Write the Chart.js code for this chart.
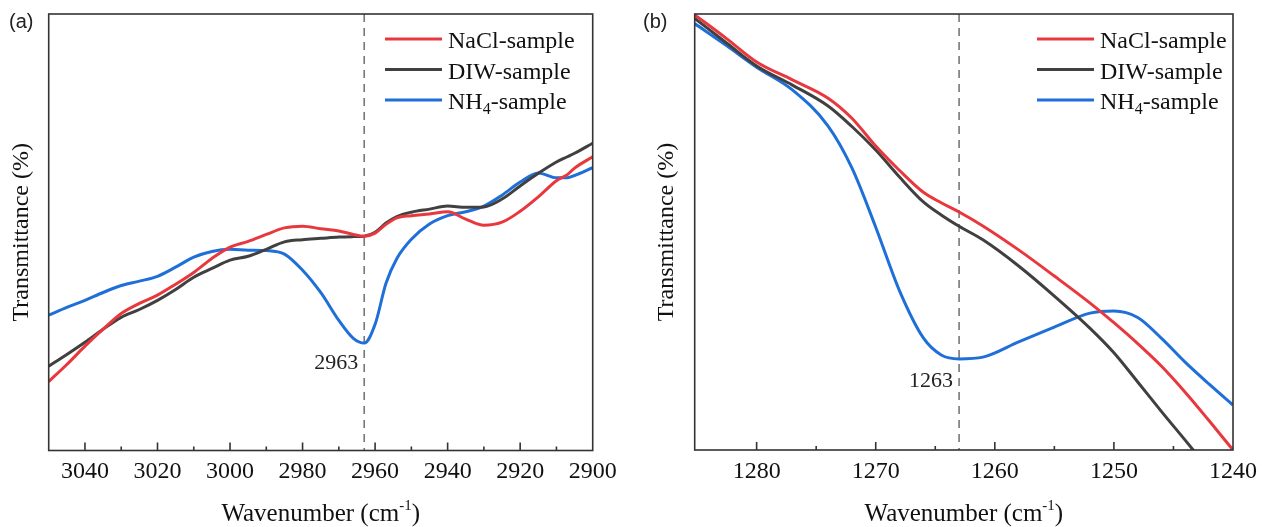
<!DOCTYPE html>
<html>
<head>
<meta charset="utf-8">
<script src="https://cdn.jsdelivr.net/npm/chart.js@4.4.0/dist/chart.umd.min.js"></script>
<style>
  html, body { margin: 0; padding: 0; background: #fff; }
  .wrap { display: flex; width: 1264px; height: 527px; }
  canvas { display: block; }
</style>
</head>
<body>
<div class="wrap">
  <canvas id="chart-a" width="632" height="527"></canvas>
  <canvas id="chart-b" width="632" height="527"></canvas>
</div>
<script>
// ---- panel (a) data ----
const wavenumbersA = [3050, 3045, 3040, 3035, 3030, 3025, 3020, 3015, 3010, 3005, 3000, 2995,
  2990, 2985, 2980, 2975, 2970, 2966, 2963, 2960, 2957, 2954, 2950, 2945, 2940, 2935,
  2930, 2925, 2920, 2915, 2910, 2907, 2905, 2900];
const naclA = [15.8, 19.7, 23.9, 27.8, 31.4, 33.7, 35.6, 38.1, 40.8, 44.0, 46.6, 47.9,
  49.5, 51.0, 51.4, 50.8, 50.3, 49.5, 49.1, 49.8, 51.8, 53.3, 53.8, 54.2, 54.7, 53.0,
  51.6, 52.3, 54.8, 58.1, 61.8, 63.2, 64.7, 67.3];
const diwA = [19.3, 22.0, 24.8, 27.8, 30.5, 32.3, 34.4, 36.9, 39.7, 41.7, 43.6, 44.5,
  46.1, 47.8, 48.3, 48.6, 48.9, 49.0, 49.1, 50.0, 52.1, 53.6, 54.6, 55.3, 56.0, 55.7,
  55.8, 57.6, 60.6, 63.5, 66.1, 67.3, 68.1, 70.4];
const nh4A = [31.0, 32.8, 34.4, 36.2, 37.8, 38.8, 39.9, 42.0, 44.3, 45.6, 46.1, 45.9,
  45.8, 45.0, 41.3, 36.2, 29.8, 25.7, 24.6, 28.9, 38.3, 44.0, 48.4, 51.9, 53.8, 54.7,
  56.0, 58.5, 61.5, 63.6, 62.5, 62.5, 63.0, 64.8];
const tickLabelsA = [3040, 3020, 3000, 2980, 2960, 2940, 2920, 2900];
const peakA = 2963;

// ---- panel (b) data ----
const wavenumbersB = [1285.2, 1282.5, 1280, 1277, 1274, 1272, 1270, 1268, 1266, 1264.5,
  1263, 1261, 1258, 1255, 1252, 1250, 1248, 1246, 1244, 1242, 1240];
const naclB = [99.8, 94.3, 89.0, 84.9, 80.7, 76.1, 69.7, 64.1, 59.1, 56.7,
  54.6, 51.4, 45.9, 39.9, 33.7, 29.2, 24.4, 19.2, 13.2, 6.7, 0];
const diwB = [99.0, 93.3, 88.1, 83.7, 78.9, 74.2, 68.8, 62.6, 56.9, 53.9,
  51.3, 48.2, 42.2, 35.3, 27.9, 22.3, 15.6, 8.8, 2.2, -4.5, -11.2];
const nh4B = [97.8, 92.7, 87.8, 82.6, 74.3, 64.7, 51.1, 36.5, 25.7, 21.8,
  20.9, 21.3, 24.8, 28.2, 31.4, 31.9, 30.4, 25.6, 20.1, 15.1, 10.3];
const tickLabelsB = [1280, 1270, 1260, 1250, 1240];
const peakB = 1263;

const seriesNames = ["NaCl-sample", "DIW-sample", "NH4-sample"];
const seriesColors = ["#e8383d", "#404040", "#1f6fd8"];

const SERIF = '"Liberation Serif", "Times New Roman", serif';
const SANS = '"Liberation Sans", Arial, sans-serif';

// frame, inward ticks, peak marker, legend and titles
const spectrumPlugin = {
  id: "spectrum",
  beforeDatasetsDraw(chart, args, opts) {
    const { ctx, chartArea: a, scales } = chart;
    const x = scales.x.getPixelForValue(opts.peak);
    ctx.save();
    ctx.strokeStyle = "#777";
    ctx.lineWidth = 1.6;
    ctx.setLineDash([8, 6]);
    ctx.beginPath();
    ctx.moveTo(x, a.top);
    ctx.lineTo(x, a.bottom);
    ctx.stroke();
    ctx.restore();
  },
  afterDraw(chart, args, opts) {
    const { ctx, chartArea: a, scales } = chart;
    ctx.save();

    // box
    ctx.strokeStyle = "#333";
    ctx.lineWidth = 1.6;
    ctx.strokeRect(a.left, a.top, a.right - a.left, a.bottom - a.top);

    // tick marks pointing into the plot
    scales.x.ticks.forEach((t) => {
      const r = t.value / opts.minorStep;
      if (Math.abs(r - Math.round(r)) > 1e-6) return;
      const px = scales.x.getPixelForValue(t.value);
      if (px < a.left + 4 || px > a.right - 4) return;
      const len = opts.tickLabels.includes(t.value) ? 8 : 4;
      ctx.beginPath();
      ctx.moveTo(px, a.bottom);
      ctx.lineTo(px, a.bottom - len);
      ctx.stroke();
    });

    // peak label
    const px = scales.x.getPixelForValue(opts.peak);
    const idx = chart.data.datasets[2].data.findIndex((d) => d.x === opts.peak);
    const py = scales.y.getPixelForValue(chart.data.datasets[2].data[idx].y);
    ctx.fillStyle = "#222";
    ctx.font = "22px " + SERIF;
    ctx.textAlign = "right";
    ctx.textBaseline = "middle";
    ctx.fillText(String(opts.peak), px - 6, py + opts.labelDy);

    // legend
    ctx.textAlign = "left";
    ctx.textBaseline = "alphabetic";
    chart.data.datasets.forEach((ds, i) => {
      const y = a.top + 25 + i * 30.5;
      ctx.strokeStyle = ds.borderColor;
      ctx.lineWidth = 3;
      ctx.beginPath();
      ctx.moveTo(opts.legendX, y);
      ctx.lineTo(opts.legendX + 57, y);
      ctx.stroke();
      let tx = opts.legendX + 63;
      ctx.fillStyle = "#111";
      ctx.font = "24px " + SERIF;
      if (ds.label === "NH4-sample") {
        ctx.fillText("NH", tx, y + 9);
        tx += ctx.measureText("NH").width;
        ctx.font = "16px " + SERIF;
        ctx.fillText("4", tx, y + 14);
        tx += ctx.measureText("4").width;
        ctx.font = "24px " + SERIF;
        ctx.fillText("-sample", tx, y + 9);
      } else {
        ctx.fillText(ds.label, tx, y + 9);
      }
    });

    // x title with superscript
    ctx.fillStyle = "#111";
    const main = "Wavenumber (cm";
    ctx.font = "25px " + SERIF;
    const w1 = ctx.measureText(main).width;
    const w3 = ctx.measureText(")").width;
    ctx.font = "15px " + SERIF;
    const w2 = ctx.measureText("-1").width;
    let tx = (a.left + a.right) / 2 - (w1 + w2 + w3) / 2;
    ctx.font = "25px " + SERIF;
    ctx.fillText(main, tx, 521);
    tx += w1;
    ctx.font = "15px " + SERIF;
    ctx.fillText("-1", tx, 510);
    tx += w2;
    ctx.font = "25px " + SERIF;
    ctx.fillText(")", tx, 521);

    // y title
    ctx.save();
    ctx.font = "24px " + SERIF;
    ctx.translate(opts.yTitleX, (a.top + a.bottom) / 2);
    ctx.rotate(-Math.PI / 2);
    ctx.textAlign = "center";
    ctx.textBaseline = "middle";
    ctx.fillText("Transmittance (%)", 0, 0);
    ctx.restore();

    // panel letter
    ctx.font = "20px " + SANS;
    ctx.fillStyle = "#222";
    ctx.textAlign = "left";
    ctx.fillText(opts.panel, opts.panelX, 28);

    ctx.restore();
  },
};

function makeChart(id, xs, series, range, step, tickLabels, extra) {
  const datasets = series.map((vals, i) => ({
    label: seriesNames[i],
    data: xs.map((x, j) => ({ x: x, y: vals[j] })),
    borderColor: seriesColors[i],
    borderWidth: 3,
    pointRadius: 0,
    cubicInterpolationMode: "monotone",
    fill: false,
  }));
  return new Chart(document.getElementById(id), {
    type: "line",
    data: { datasets: datasets },
    options: {
      responsive: false,
      animation: false,
      devicePixelRatio: 1,
      layout: { padding: extra.padding },
      plugins: {
        legend: { display: false },
        tooltip: { enabled: false },
        spectrum: Object.assign({ tickLabels: tickLabels, minorStep: step }, extra),
      },
      scales: {
        x: {
          type: "linear",
          reverse: true,
          min: range[0],
          max: range[1],
          afterFit: (scale) => { scale.height = extra.axisHeight; },
          grid: { display: false, drawTicks: false },
          border: { display: false },
          ticks: {
            stepSize: step,
            autoSkip: false,
            maxRotation: 0,
            minRotation: 0,
            padding: 7,
            color: "#111",
            font: { family: SERIF, size: 24 },
            callback: (v) => (tickLabels.includes(v) ? String(v) : ""),
          },
        },
        y: {
          display: false,
          min: 0,
          max: 100,
        },
      },
    },
    plugins: [spectrumPlugin],
  });
}

makeChart("chart-a", wavenumbersA, [naclA, diwA, nh4A], [2900, 3050], 10, tickLabelsA, {
  peak: peakA,
  labelDy: 20,
  legendX: 385,
  yTitleX: 22,
  panel: "(a)",
  panelX: 9,
  axisHeight: 76.5,
  padding: { left: 48.7, right: 39.3, top: 14, bottom: 0 },
});

makeChart("chart-b", wavenumbersB, [naclB, diwB, nh4B], [1240, 1285.2], 5, tickLabelsB, {
  peak: peakB,
  labelDy: 22,
  legendX: 405,
  yTitleX: 35,
  panel: "(b)",
  panelX: 11,
  axisHeight: 77,
  padding: { left: 62.7, right: 26, top: 14, bottom: 0 },
});
</script>
</body>
</html>
